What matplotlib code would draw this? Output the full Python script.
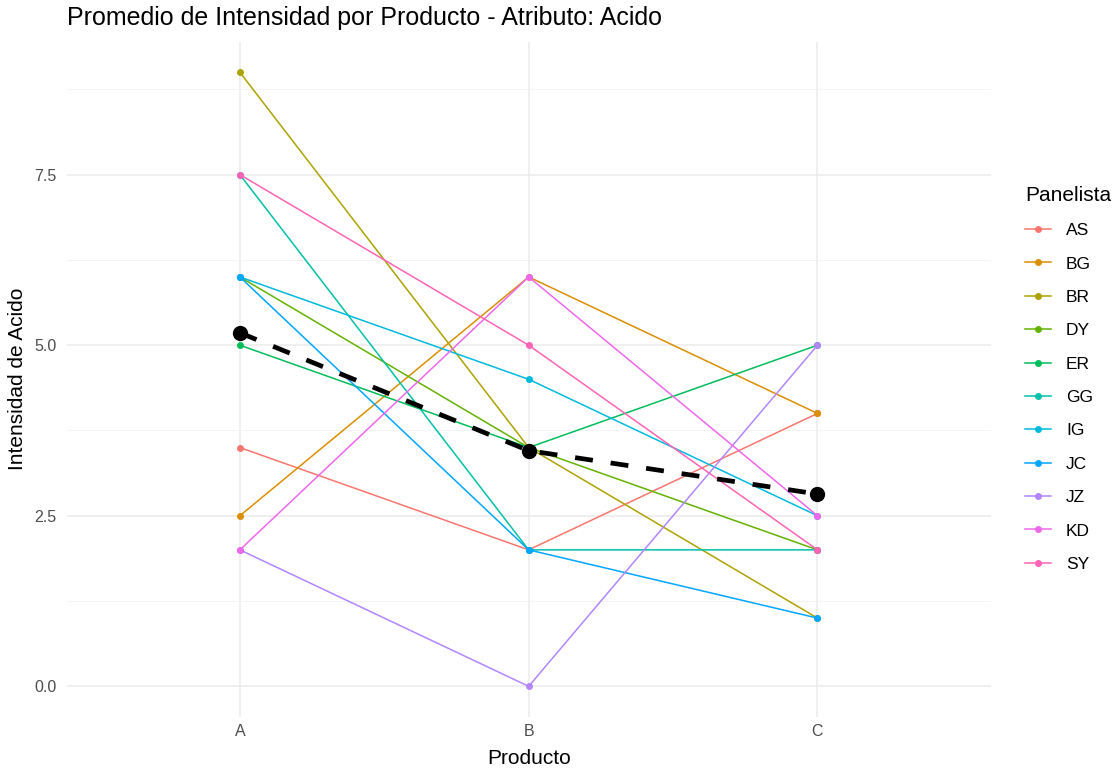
import numpy as np
import matplotlib
matplotlib.use("Agg")
import matplotlib.pyplot as plt

plt.rcParams['font.family'] = ['Liberation Sans', 'DejaVu Sans']

# datos
productos = ["A", "B", "C"]
panelistas = ["AS", "BG", "BR", "DY", "ER", "GG", "IG", "JC", "JZ", "KD", "SY"]
colores = ["#F8766D", "#DB8E00", "#AEA200", "#64B200", "#00BD5C", "#00C1A7",
           "#00BADE", "#00A6FF", "#B385FF", "#EF67EB", "#FF63B6"]
AS = [3.5, 2.0, 4.0]
BG = [2.5, 6.0, 4.0]
BR = [9.0, 3.5, 1.0]
DY = [6.0, 3.5, 2.0]
ER = [5.0, 3.5, 5.0]
GG = [7.5, 2.0, 2.0]
IG = [6.0, 4.5, 2.5]
JC = [6.0, 2.0, 1.0]
JZ = [2.0, 0.0, 5.0]
KD = [2.0, 6.0, 2.5]
SY = [7.5, 5.0, 2.0]
valores = [AS, BG, BR, DY, ER, GG, IG, JC, JZ, KD, SY]

# promedio por producto
promedio = np.mean(np.array(valores), axis=0)

fig = plt.figure(figsize=(11.17, 7.7), dpi=100)
ax = fig.add_axes([0.0596, 0.0688, 0.8274, 0.8772])

x = np.arange(len(productos))
for nombre, col, vals in zip(panelistas, colores, valores):
    ax.plot(x, vals, color=col, lw=1.1, marker="o", ms=4, label=nombre)

# linea del promedio
ax.plot(x, promedio, color="black", lw=3.4, ls=(0, (3.8, 3.8)), marker="o",
        ms=10, zorder=5)

ax.set_xlim(-0.6, 2.6)
ax.set_ylim(-0.45, 9.45)
ax.set_xticks(x)
ax.set_xticklabels(productos)
ax.set_yticks([0, 2.5, 5, 7.5])
ax.set_yticklabels(["0.0", "2.5", "5.0", "7.5"])
ax.set_yticks([1.25, 3.75, 6.25, 8.75], minor=True)

ax.grid(which="major", color="#EBEBEB", lw=1.1)
ax.grid(which="minor", axis="y", color="#F2F2F2", lw=0.6)
ax.set_axisbelow(True)
for s in ax.spines.values():
    s.set_visible(False)
ax.tick_params(which="both", length=0, labelsize=11.5, colors="#4D4D4D")
ax.tick_params(axis="x", pad=5)
ax.tick_params(axis="y", pad=7)

ax.set_xlabel("Producto", fontsize=15)
ax.xaxis.set_label_coords(0.5, -0.062)
ax.xaxis.label.set_va("center")
ax.set_ylabel("Intensidad de Acido", fontsize=15)
ax.yaxis.set_label_coords(-0.0526, 0.5)
ax.yaxis.label.set_va("center")
fig.text(0.0596, 1 - 18 / 770, "Promedio de Intensidad por Producto - Atributo: Acido",
         fontsize=18, va="center", ha="left")

leg = ax.legend(title="Panelista", loc="center left", bbox_to_anchor=(0.9177, 0.508),
                bbox_transform=fig.transFigure, frameon=False, fontsize=12.5,
                title_fontsize=15, handlelength=1.5, handletextpad=0.86,
                labelspacing=1.05, borderaxespad=0, borderpad=0)
leg._legend_box.align = "left"

fig.savefig("out.png", dpi=100)
